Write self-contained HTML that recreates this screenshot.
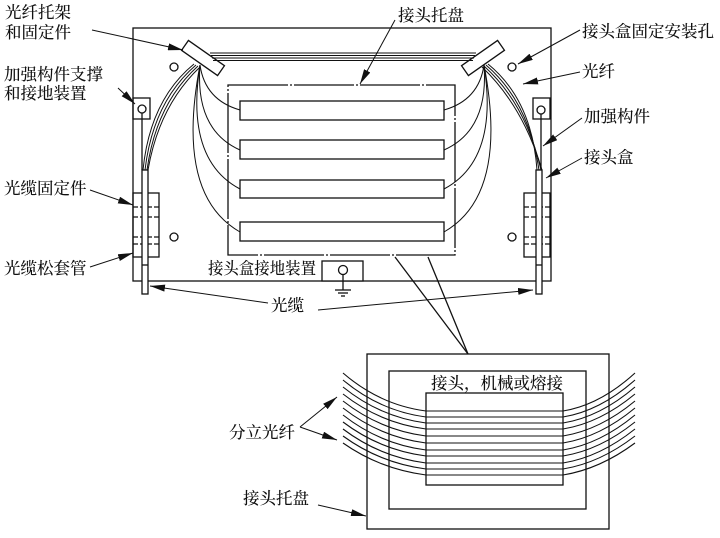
<!DOCTYPE html>
<html><head><meta charset="utf-8"><style>
body{margin:0;background:#fff}
svg{display:block}
text{font-family:"Liberation Serif","Noto Serif CJK SC",serif;font-size:16.5px;fill:#111;font-weight:500}
</style></head><body>
<svg width="720" height="538" viewBox="0 0 720 538" xmlns="http://www.w3.org/2000/svg">
<defs><marker id="a" markerWidth="15" markerHeight="7" refX="15" refY="3.5" orient="auto" markerUnits="userSpaceOnUse"><path d="M0,0 L15,3.5 L0,7 z" fill="#111"/></marker></defs>
<g fill="none" stroke="#111" stroke-width="1.3">
<rect x="133" y="28" width="418" height="253"/>
<rect x="228" y="85" width="227" height="170" stroke-dasharray="60 2 2 2"/>
<rect x="240" y="101" width="204" height="19"/><rect x="240" y="140" width="204" height="19"/>
<rect x="240" y="180" width="204" height="18"/><rect x="240" y="222" width="204" height="19"/>
<circle cx="174" cy="67" r="4"/><circle cx="512" cy="67" r="4"/><circle cx="174" cy="237" r="4"/><circle cx="512" cy="237" r="4"/>
<rect x="133" y="98" width="17" height="21"/><circle cx="142" cy="109" r="4"/><line x1="142" y1="113" x2="142" y2="170"/>
<rect x="533" y="98" width="17" height="21"/><circle cx="541" cy="110" r="4"/><line x1="541" y1="114" x2="541" y2="170"/>
<rect x="133" y="193" width="26" height="64"/><rect x="524" y="193" width="26" height="64"/>
<g stroke-dasharray="5 2"><line x1="133" y1="207" x2="159" y2="207"/><line x1="133" y1="217" x2="159" y2="217"/><line x1="133" y1="237" x2="159" y2="237"/><line x1="133" y1="244" x2="159" y2="244"/>
<line x1="524" y1="207" x2="550" y2="207"/><line x1="524" y1="217" x2="550" y2="217"/><line x1="524" y1="237" x2="550" y2="237"/><line x1="524" y1="244" x2="550" y2="244"/></g>
<rect x="142" y="170" width="6" height="124" fill="#fff"/><line x1="142" y1="265" x2="148" y2="265"/>
<rect x="536" y="170" width="6" height="124" fill="#fff"/><line x1="536" y1="265" x2="542" y2="265"/>
<rect x="181" y="52" width="44" height="12" transform="rotate(35 203 58)" fill="#fff"/>
<rect x="461" y="52" width="44" height="12" transform="rotate(-35 483 58)" fill="#fff"/>
<g stroke-width="1">
<path d="M210 53 H476"/><path d="M211 55.5 H475"/><path d="M212 58 H474"/><path d="M213 60.5 H473"/>
<path d="M194 64 Q150 100 143 170"/><path d="M196 65 Q153 102 145 170"/><path d="M198 66 Q156 104 147 170"/><path d="M200 67 Q159 106 148 170"/>
<path d="M488 64 Q532 100 537 170"/><path d="M486 65 Q529 102 539 170"/><path d="M484 66 Q526 104 541 170"/><path d="M482 67 Q523 106 542 170"/>
<path d="M200 65 Q205 100 240 110"/><path d="M200 65 Q195 130 240 150"/><path d="M200 65 Q185 160 240 189"/><path d="M200 65 Q175 195 240 232"/>
<path d="M484 65 Q479 100 444 110"/><path d="M484 65 Q489 130 444 150"/><path d="M484 65 Q499 160 444 189"/><path d="M484 65 Q509 195 444 232"/>
</g>
<rect x="322" y="261" width="41" height="20" fill="#fff"/><circle cx="343" cy="270" r="4.5"/>
<line x1="343" y1="275" x2="343" y2="290"/><line x1="335" y1="290" x2="351" y2="290"/><line x1="338" y1="293" x2="348" y2="293"/><line x1="341" y1="296" x2="345" y2="296"/>
<line x1="395" y1="257" x2="468" y2="354"/><line x1="428" y1="257" x2="468" y2="354"/>
<rect x="367" y="354" width="242" height="175"/>
<rect x="389" y="371" width="197" height="138"/>
<rect x="426" y="393" width="137" height="92"/>
<g stroke-width="1.1">
<path d="M343 373 Q380 405 426 411 H563 Q600 405 635 373"/>
<path d="M343 380 Q380 411 426 417 H563 Q600 411 635 380"/>
<path d="M343 387 Q380 417 426 423 H563 Q600 417 635 387"/>
<path d="M343 394 Q380 423 426 429 H563 Q600 423 635 394"/>
<path d="M343 401 Q380 430 426 436 H563 Q600 430 635 401"/>
<path d="M343 408 Q380 437 426 443 H563 Q600 437 635 408"/>
<path d="M343 415 Q380 444 426 450 H563 Q600 444 635 415"/>
<path d="M343 422 Q380 450 426 456 H563 Q600 450 635 422"/>
<path d="M343 429 Q380 457 426 463 H563 Q600 457 635 429"/>
<path d="M343 436 Q380 463 426 469 H563 Q600 463 635 436"/>
<path d="M343 443 Q380 469 426 475 H563 Q600 469 635 443"/>
</g>
</g>
<g stroke="#111" stroke-width="1" fill="none" marker-end="url(#a)">
<line x1="92" y1="30" x2="183" y2="50"/>
<line x1="118" y1="88" x2="135" y2="104"/>
<line x1="90" y1="190" x2="133" y2="205"/>
<line x1="90" y1="267" x2="133" y2="253"/>
<line x1="268" y1="303" x2="150" y2="286"/>
<line x1="318" y1="310" x2="533" y2="290"/>
<line x1="395" y1="20" x2="360" y2="84"/>
<line x1="580" y1="30" x2="518" y2="64"/>
<line x1="580" y1="72" x2="523" y2="84"/>
<line x1="582" y1="118" x2="543" y2="146"/>
<line x1="582" y1="158" x2="546" y2="178"/>
<line x1="300" y1="427" x2="337" y2="397"/>
<line x1="300" y1="427" x2="337" y2="440"/>
<line x1="318" y1="505" x2="366" y2="516"/>
</g>
<text x="5" y="18">光纤托架</text><text x="5" y="38">和固定件</text>
<text x="4" y="80">加强构件支撑</text><text x="4" y="99">和接地装置</text>
<text x="4" y="194">光缆固定件</text><text x="4" y="274">光缆松套管</text>
<text x="208" y="274" textLength="108" lengthAdjust="spacingAndGlyphs">接头盒接地装置</text>
<text x="271" y="311">光缆</text>
<text x="398" y="21">接头托盘</text>
<text x="582" y="37">接头盒固定安装孔</text>
<text x="582" y="77">光纤</text>
<text x="584" y="122">加强构件</text>
<text x="584" y="163">接头盒</text>
<text x="431" y="389">接头，机械或熔接</text>
<text x="229" y="438">分立光纤</text>
<text x="243" y="504">接头托盘</text>
</svg>
</body></html>
